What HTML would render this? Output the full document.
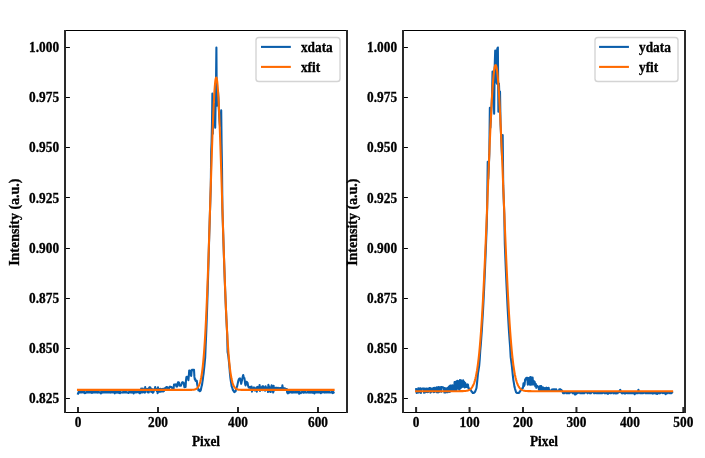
<!DOCTYPE html>
<html><head><meta charset="utf-8"><style>
html,body{margin:0;padding:0;background:#fff;}
svg{display:block;}
text{font-family:"Liberation Serif","Times New Roman",serif;font-weight:bold;font-size:13.89px;fill:#000;stroke:#000;stroke-width:0.3px;}
</style></head><body>
<svg width="705" height="458" viewBox="0 0 705 458">
<rect width="705" height="458" fill="#fff"/>
<polyline points="78.00,393.62 78.40,392.51 78.80,391.71 79.20,392.43 79.60,392.57 80.00,391.61 80.40,391.61 80.80,392.44 81.20,391.77 81.60,392.53 82.00,391.67 82.40,391.69 82.80,391.72 83.20,392.47 83.60,391.62 84.00,392.56 84.40,391.72 84.80,393.28 85.20,392.45 85.60,392.93 86.00,392.42 86.40,392.46 86.80,391.70 87.20,392.51 87.60,391.66 88.00,392.53 88.40,391.64 88.80,392.56 89.20,392.44 89.60,392.44 90.00,391.68 90.40,392.47 90.80,391.61 91.20,392.58 91.60,391.68 92.00,392.94 92.40,392.38 92.80,392.46 93.20,391.76 93.60,392.46 94.00,391.61 94.40,392.46 94.80,392.15 95.20,392.50 95.60,391.76 96.00,392.55 96.40,392.54 96.80,391.78 97.20,391.63 97.60,392.60 98.00,391.68 98.40,392.54 98.80,391.61 99.20,392.43 99.60,392.45 100.00,392.53 100.40,392.54 100.80,393.46 101.20,391.62 101.60,392.45 102.00,391.60 102.40,392.57 102.80,391.68 103.20,392.44 103.60,391.73 104.00,392.46 104.40,391.61 104.80,392.53 105.20,391.76 105.60,392.42 106.00,391.74 106.40,392.45 106.80,391.62 107.20,392.42 107.60,391.65 108.00,392.55 108.40,392.54 108.80,392.57 109.20,391.64 109.60,392.48 110.00,391.65 110.40,392.60 110.80,392.43 111.20,392.48 111.60,391.68 112.00,391.72 112.40,391.73 112.80,392.43 113.20,391.61 113.60,392.49 114.00,391.64 114.40,392.57 114.80,393.35 115.20,392.52 115.60,391.72 116.00,392.54 116.40,391.74 116.80,392.59 117.20,391.63 117.60,391.67 118.00,392.57 118.40,391.70 118.80,392.46 119.20,393.02 119.60,391.74 120.00,393.24 120.40,391.66 120.80,392.45 121.20,392.42 121.60,392.45 122.00,392.56 122.40,392.48 122.80,392.59 123.20,391.62 123.60,392.49 124.00,392.45 124.40,391.69 124.80,392.43 125.20,391.71 125.60,392.46 126.00,391.61 126.40,392.44 126.80,392.50 127.20,392.53 127.60,392.21 128.00,392.54 128.40,393.02 128.80,392.44 129.20,391.66 129.60,392.49 130.00,392.44 130.40,392.44 130.80,391.62 131.20,392.52 131.60,391.77 132.00,392.58 132.40,391.63 132.80,392.40 133.20,391.47 133.60,393.38 134.00,391.75 134.40,392.44 134.80,390.87 135.20,392.53 135.60,390.89 136.00,392.53 136.40,392.30 136.80,392.30 137.20,391.05 137.60,392.26 138.00,390.75 138.40,392.31 138.80,390.97 139.20,392.74 139.60,393.28 140.00,393.25 140.40,392.47 140.80,392.40 141.20,388.47 141.60,392.45 142.00,390.94 142.40,392.48 142.80,388.48 143.20,392.33 143.60,389.61 144.00,392.30 144.40,389.25 144.80,392.59 145.20,387.11 145.60,392.16 146.00,389.34 146.40,390.38 146.80,389.07 147.20,389.09 147.60,389.46 148.00,392.36 148.40,388.57 148.80,392.44 149.20,387.49 149.60,389.14 150.00,387.17 150.40,387.56 150.80,389.14 151.20,391.96 151.60,389.44 152.00,389.06 152.40,389.33 152.80,392.80 153.20,391.87 153.60,391.99 154.00,389.18 154.40,389.78 154.80,389.15 155.20,387.06 155.60,389.22 156.00,388.90 156.40,389.07 156.80,391.01 157.20,388.82 157.60,393.09 158.00,387.35 158.40,391.45 158.80,391.59 159.20,391.61 159.60,388.95 160.00,391.78 160.40,388.77 160.80,391.59 161.20,391.55 161.60,391.49 162.00,388.94 162.40,389.13 162.80,388.92 163.20,391.56 163.60,388.72 164.00,391.05 164.40,388.65 164.80,389.95 165.20,388.03 165.60,387.61 166.00,388.20 166.40,387.04 166.80,387.75 167.20,387.21 167.60,387.32 168.00,388.66 168.40,388.42 168.80,389.30 169.20,387.42 169.60,387.32 170.00,386.63 170.40,386.78 170.80,386.95 171.20,387.45 171.60,387.19 172.00,387.78 172.40,388.49 172.80,388.50 173.20,388.65 173.60,388.77 174.00,384.50 174.40,384.49 174.80,384.59 175.20,384.74 175.60,384.58 176.00,384.36 176.40,386.49 176.80,386.59 177.20,386.50 177.60,384.17 178.00,382.29 178.40,382.41 178.80,382.40 179.20,383.04 179.60,385.69 180.00,385.75 180.40,385.80 180.80,385.82 181.20,384.78 181.60,383.77 182.00,382.61 182.40,382.17 182.80,382.54 183.20,382.43 183.60,382.49 184.00,384.91 184.40,387.14 184.80,386.91 185.20,386.94 185.60,386.99 186.00,380.30 186.40,377.04 186.80,376.75 187.20,376.68 187.60,376.86 188.00,377.04 188.40,380.23 188.80,376.20 189.20,370.62 189.60,370.64 190.00,370.65 190.40,370.73 190.80,374.45 191.20,375.91 191.60,371.28 192.00,369.79 192.40,370.13 192.80,369.80 193.20,369.96 193.60,369.68 194.00,369.70 194.40,376.68 194.80,379.28 195.20,378.94 195.60,380.73 196.00,381.20 196.40,380.90 196.80,380.76 197.20,384.45 197.60,386.19 198.00,387.66 198.40,390.28 198.80,390.19 199.20,389.66 199.60,391.12 200.00,391.10 200.40,390.85 200.80,389.96 201.20,388.10 201.60,386.30 202.00,384.91 202.40,382.03 202.80,379.54 203.20,376.16 203.60,373.49 204.00,369.68 204.40,365.94 204.80,361.77 205.20,357.44 205.60,347.07 206.00,338.25 206.40,328.16 206.80,317.19 207.20,305.46 207.60,292.97 208.00,279.49 208.40,265.61 208.80,251.29 209.20,236.60 209.60,224.09 210.00,211.39 210.40,198.59 210.80,185.82 211.20,151.80 211.60,141.77 212.00,123.72 212.40,93.63 212.80,133.75 213.20,115.69 213.60,107.67 214.00,103.66 214.40,107.67 214.80,121.71 215.20,127.73 215.60,103.66 216.00,83.60 216.40,47.50 216.80,105.67 217.20,101.65 217.60,95.64 218.00,91.63 218.40,97.64 218.80,107.67 219.20,115.69 219.60,121.71 220.00,125.72 220.40,123.72 220.80,115.69 221.20,110.28 221.60,143.77 222.00,167.84 222.40,208.83 222.80,221.56 223.20,234.12 223.60,246.41 224.00,258.34 224.40,269.83 224.80,280.83 225.20,291.28 225.60,301.15 226.00,310.41 226.40,319.04 226.80,327.03 227.20,334.48 227.60,352.15 228.00,353.99 228.40,356.56 228.80,360.33 229.20,364.32 229.60,369.18 230.00,374.16 230.40,377.84 230.80,380.83 231.20,383.06 231.60,386.10 232.00,387.06 232.40,388.23 232.80,389.68 233.20,390.52 233.60,390.87 234.00,391.70 234.40,392.10 234.80,392.05 235.20,391.32 235.60,391.17 236.00,389.56 236.40,388.29 236.80,387.03 237.20,386.12 237.60,384.15 238.00,382.24 238.40,380.49 238.80,379.33 239.20,378.74 239.60,378.58 240.00,378.38 240.40,379.84 240.80,381.80 241.20,383.85 241.60,381.98 242.00,380.20 242.40,378.23 242.80,376.48 243.20,375.12 243.60,376.56 244.00,377.49 244.40,378.15 244.80,380.75 245.20,384.28 245.60,385.43 246.00,383.12 246.40,381.72 246.80,381.93 247.20,382.45 247.60,382.94 248.00,385.44 248.40,386.65 248.80,387.48 249.20,387.55 249.60,387.12 250.00,387.20 250.40,388.49 250.80,386.69 251.20,389.66 251.60,386.49 252.00,391.65 252.40,389.24 252.80,388.53 253.20,388.61 253.60,388.48 254.00,387.39 254.40,390.35 254.80,390.49 255.20,388.61 255.60,388.46 256.00,390.53 256.40,387.44 256.80,391.70 257.20,387.35 257.60,386.76 258.00,387.41 258.40,387.37 258.80,389.66 259.20,388.60 259.60,384.97 260.00,391.00 260.40,387.40 260.80,388.82 261.20,387.36 261.60,387.34 262.00,387.58 262.40,386.26 262.80,390.19 263.20,386.39 263.60,387.40 264.00,388.70 264.40,387.47 264.80,388.69 265.20,390.75 265.60,386.19 266.00,387.68 266.40,387.61 266.80,388.80 267.20,388.83 267.60,387.68 268.00,392.05 268.40,384.90 268.80,386.36 269.20,390.06 269.60,391.47 270.00,387.61 270.40,388.86 270.80,392.00 271.20,387.70 271.60,385.34 272.00,387.79 272.40,387.84 272.80,388.84 273.20,392.54 273.60,385.69 274.00,390.68 274.40,389.04 274.80,387.88 275.20,389.14 275.60,387.78 276.00,389.15 276.40,387.81 276.80,387.88 277.20,387.95 277.60,389.15 278.00,387.86 278.40,389.09 278.80,389.22 279.20,389.06 279.60,388.10 280.00,389.23 280.40,388.02 280.80,389.22 281.20,388.13 281.60,389.12 282.00,389.05 282.40,385.40 282.80,388.00 283.20,389.21 283.60,388.13 284.00,389.26 284.40,388.28 284.80,389.17 285.20,388.51 285.60,389.36 286.00,388.75 286.40,389.38 286.80,388.98 287.20,392.66 287.60,390.35 288.00,393.40 288.40,390.88 288.80,392.26 289.20,392.74 289.60,391.67 290.00,391.75 290.40,391.65 290.80,391.71 291.20,392.59 291.60,391.62 292.00,392.44 292.40,391.70 292.80,392.59 293.20,391.72 293.60,392.48 294.00,391.62 294.40,392.50 294.80,392.51 295.20,392.50 295.60,392.28 296.00,391.73 296.40,391.76 296.80,392.47 297.20,391.62 297.60,392.48 298.00,391.77 298.40,391.75 298.80,391.65 299.20,393.71 299.60,391.66 300.00,392.57 300.40,392.59 300.80,393.14 301.20,392.56 301.60,392.45 302.00,391.73 302.40,391.60 302.80,391.77 303.20,392.56 303.60,391.76 304.00,392.60 304.40,391.70 304.80,392.45 305.20,391.75 305.60,392.49 306.00,392.54 306.40,392.51 306.80,392.59 307.20,392.42 307.60,391.65 308.00,391.67 308.40,391.73 308.80,392.59 309.20,391.75 309.60,392.59 310.00,392.69 310.40,392.55 310.80,391.71 311.20,392.43 311.60,391.61 312.00,392.56 312.40,391.64 312.80,392.56 313.20,392.78 313.60,392.42 314.00,391.70 314.40,393.44 314.80,391.61 315.20,392.47 315.60,391.66 316.00,392.48 316.40,391.73 316.80,392.45 317.20,391.68 317.60,392.53 318.00,391.77 318.40,392.44 318.80,391.61 319.20,392.45 319.60,391.64 320.00,392.45 320.40,391.61 320.80,393.15 321.20,391.64 321.60,392.51 322.00,391.72 322.40,391.71 322.80,391.63 323.20,392.44 323.60,391.65 324.00,391.75 324.40,391.69 324.80,392.58 325.20,392.47 325.60,392.46 326.00,391.61 326.40,392.43 326.80,392.32 327.20,392.49 327.60,391.72 328.00,391.76 328.40,391.65 328.80,392.54 329.20,391.70 329.60,392.51 330.00,392.44 330.40,392.44 330.80,392.56 331.20,392.52 331.60,391.70 332.00,392.60 332.40,391.78 332.80,393.10 333.20,391.74 333.60,392.55" fill="none" stroke="#0a5eab" stroke-width="2.08" stroke-linejoin="round" stroke-linecap="square"/>
<polyline points="78.00,389.89 78.40,389.89 78.80,389.89 79.20,389.89 79.60,389.89 80.00,389.89 80.40,389.89 80.80,389.89 81.20,389.89 81.60,389.89 82.00,389.89 82.40,389.89 82.80,389.89 83.20,389.89 83.60,389.89 84.00,389.89 84.40,389.89 84.80,389.89 85.20,389.89 85.60,389.89 86.00,389.89 86.40,389.89 86.80,389.89 87.20,389.89 87.60,389.89 88.00,389.89 88.40,389.89 88.80,389.89 89.20,389.89 89.60,389.89 90.00,389.89 90.40,389.89 90.80,389.89 91.20,389.89 91.60,389.89 92.00,389.89 92.40,389.89 92.80,389.89 93.20,389.89 93.60,389.89 94.00,389.89 94.40,389.89 94.80,389.89 95.20,389.89 95.60,389.89 96.00,389.89 96.40,389.89 96.80,389.89 97.20,389.89 97.60,389.89 98.00,389.89 98.40,389.89 98.80,389.89 99.20,389.89 99.60,389.89 100.00,389.89 100.40,389.89 100.80,389.89 101.20,389.89 101.60,389.89 102.00,389.89 102.40,389.89 102.80,389.89 103.20,389.89 103.60,389.89 104.00,389.89 104.40,389.89 104.80,389.89 105.20,389.89 105.60,389.89 106.00,389.89 106.40,389.89 106.80,389.89 107.20,389.89 107.60,389.89 108.00,389.89 108.40,389.89 108.80,389.89 109.20,389.89 109.60,389.89 110.00,389.89 110.40,389.89 110.80,389.89 111.20,389.89 111.60,389.89 112.00,389.89 112.40,389.89 112.80,389.89 113.20,389.89 113.60,389.89 114.00,389.89 114.40,389.89 114.80,389.89 115.20,389.89 115.60,389.89 116.00,389.89 116.40,389.89 116.80,389.89 117.20,389.89 117.60,389.89 118.00,389.89 118.40,389.89 118.80,389.89 119.20,389.89 119.60,389.89 120.00,389.89 120.40,389.89 120.80,389.89 121.20,389.89 121.60,389.89 122.00,389.89 122.40,389.89 122.80,389.89 123.20,389.89 123.60,389.89 124.00,389.89 124.40,389.89 124.80,389.89 125.20,389.89 125.60,389.89 126.00,389.89 126.40,389.89 126.80,389.89 127.20,389.89 127.60,389.89 128.00,389.89 128.40,389.89 128.80,389.89 129.20,389.89 129.60,389.89 130.00,389.89 130.40,389.89 130.80,389.89 131.20,389.89 131.60,389.89 132.00,389.89 132.40,389.89 132.80,389.89 133.20,389.89 133.60,389.89 134.00,389.89 134.40,389.89 134.80,389.89 135.20,389.89 135.60,389.89 136.00,389.89 136.40,389.89 136.80,389.89 137.20,389.89 137.60,389.89 138.00,389.89 138.40,389.89 138.80,389.89 139.20,389.89 139.60,389.89 140.00,389.89 140.40,389.89 140.80,389.89 141.20,389.89 141.60,389.89 142.00,389.89 142.40,389.89 142.80,389.89 143.20,389.89 143.60,389.89 144.00,389.89 144.40,389.89 144.80,389.89 145.20,389.89 145.60,389.89 146.00,389.89 146.40,389.89 146.80,389.89 147.20,389.89 147.60,389.89 148.00,389.89 148.40,389.89 148.80,389.89 149.20,389.89 149.60,389.89 150.00,389.89 150.40,389.89 150.80,389.89 151.20,389.89 151.60,389.89 152.00,389.89 152.40,389.89 152.80,389.89 153.20,389.89 153.60,389.89 154.00,389.89 154.40,389.89 154.80,389.89 155.20,389.89 155.60,389.89 156.00,389.89 156.40,389.89 156.80,389.89 157.20,389.89 157.60,389.89 158.00,389.89 158.40,389.89 158.80,389.89 159.20,389.89 159.60,389.89 160.00,389.89 160.40,389.89 160.80,389.89 161.20,389.89 161.60,389.89 162.00,389.89 162.40,389.89 162.80,389.89 163.20,389.89 163.60,389.89 164.00,389.89 164.40,389.89 164.80,389.89 165.20,389.89 165.60,389.89 166.00,389.89 166.40,389.89 166.80,389.89 167.20,389.89 167.60,389.89 168.00,389.89 168.40,389.89 168.80,389.89 169.20,389.89 169.60,389.89 170.00,389.89 170.40,389.89 170.80,389.89 171.20,389.89 171.60,389.89 172.00,389.89 172.40,389.89 172.80,389.89 173.20,389.89 173.60,389.89 174.00,389.89 174.40,389.89 174.80,389.89 175.20,389.89 175.60,389.89 176.00,389.89 176.40,389.89 176.80,389.89 177.20,389.89 177.60,389.89 178.00,389.89 178.40,389.89 178.80,389.89 179.20,389.89 179.60,389.89 180.00,389.89 180.40,389.89 180.80,389.89 181.20,389.89 181.60,389.89 182.00,389.89 182.40,389.89 182.80,389.89 183.20,389.89 183.60,389.89 184.00,389.89 184.40,389.89 184.80,389.89 185.20,389.89 185.60,389.89 186.00,389.89 186.40,389.89 186.80,389.89 187.20,389.89 187.60,389.89 188.00,389.89 188.40,389.89 188.80,389.89 189.20,389.88 189.60,389.88 190.00,389.88 190.40,389.87 190.80,389.86 191.20,389.85 191.60,389.84 192.00,389.82 192.40,389.80 192.80,389.77 193.20,389.73 193.60,389.68 194.00,389.62 194.40,389.55 194.80,389.45 195.20,389.33 195.60,389.18 196.00,388.99 196.40,388.76 196.80,388.47 197.20,388.12 197.60,387.69 198.00,387.18 198.40,386.56 198.80,385.82 199.20,384.93 199.60,383.88 200.00,382.64 200.40,381.18 200.80,379.48 201.20,377.50 201.60,375.21 202.00,372.58 202.40,369.57 202.80,366.14 203.20,362.27 203.60,357.91 204.00,353.03 204.40,347.60 204.80,341.59 205.20,334.98 205.60,327.75 206.00,319.88 206.40,311.38 206.80,302.25 207.20,292.50 207.60,282.16 208.00,271.27 208.40,259.87 208.80,248.02 209.20,235.80 209.60,223.29 210.00,210.58 210.40,197.79 210.80,185.01 211.20,172.39 211.60,160.03 212.00,148.08 212.40,136.67 212.80,125.93 213.20,115.99 213.60,106.96 214.00,98.97 214.40,92.12 214.80,86.49 215.20,82.17 215.60,79.21 216.00,77.64 216.40,77.50 216.80,78.78 217.20,81.47 217.60,85.52 218.00,90.89 218.40,97.51 218.80,105.28 219.20,114.11 219.60,123.88 220.00,134.47 220.40,145.75 220.80,157.61 221.20,169.89 221.60,182.47 222.00,195.23 222.40,208.03 222.80,220.76 223.20,233.32 223.60,245.61 224.00,257.53 224.40,269.03 224.80,280.03 225.20,290.48 225.60,300.35 226.00,309.61 226.40,318.23 226.80,326.22 227.20,333.58 227.60,340.32 228.00,346.44 228.40,351.99 228.80,356.98 229.20,361.44 229.60,365.41 230.00,368.92 230.40,372.01 230.80,374.71 231.20,377.06 231.60,379.10 232.00,380.86 232.40,382.36 232.80,383.65 233.20,384.73 233.60,385.65 234.00,386.42 234.40,387.06 234.80,387.60 235.20,388.04 235.60,388.41 236.00,388.70 236.40,388.95 236.80,389.14 237.20,389.30 237.60,389.43 238.00,389.53 238.40,389.61 238.80,389.67 239.20,389.72 239.60,389.76 240.00,389.79 240.40,389.82 240.80,389.84 241.20,389.85 241.60,389.86 242.00,389.87 242.40,389.88 242.80,389.88 243.20,389.88 243.60,389.89 244.00,389.89 244.40,389.89 244.80,389.89 245.20,389.89 245.60,389.89 246.00,389.89 246.40,389.89 246.80,389.89 247.20,389.89 247.60,389.89 248.00,389.89 248.40,389.89 248.80,389.89 249.20,389.89 249.60,389.89 250.00,389.89 250.40,389.89 250.80,389.89 251.20,389.89 251.60,389.89 252.00,389.89 252.40,389.89 252.80,389.89 253.20,389.89 253.60,389.89 254.00,389.89 254.40,389.89 254.80,389.89 255.20,389.89 255.60,389.89 256.00,389.89 256.40,389.89 256.80,389.89 257.20,389.89 257.60,389.89 258.00,389.89 258.40,389.89 258.80,389.89 259.20,389.89 259.60,389.89 260.00,389.89 260.40,389.89 260.80,389.89 261.20,389.89 261.60,389.89 262.00,389.89 262.40,389.89 262.80,389.89 263.20,389.89 263.60,389.89 264.00,389.89 264.40,389.89 264.80,389.89 265.20,389.89 265.60,389.89 266.00,389.89 266.40,389.89 266.80,389.89 267.20,389.89 267.60,389.89 268.00,389.89 268.40,389.89 268.80,389.89 269.20,389.89 269.60,389.89 270.00,389.89 270.40,389.89 270.80,389.89 271.20,389.89 271.60,389.89 272.00,389.89 272.40,389.89 272.80,389.89 273.20,389.89 273.60,389.89 274.00,389.89 274.40,389.89 274.80,389.89 275.20,389.89 275.60,389.89 276.00,389.89 276.40,389.89 276.80,389.89 277.20,389.89 277.60,389.89 278.00,389.89 278.40,389.89 278.80,389.89 279.20,389.89 279.60,389.89 280.00,389.89 280.40,389.89 280.80,389.89 281.20,389.89 281.60,389.89 282.00,389.89 282.40,389.89 282.80,389.89 283.20,389.89 283.60,389.89 284.00,389.89 284.40,389.89 284.80,389.89 285.20,389.89 285.60,389.89 286.00,389.89 286.40,389.89 286.80,389.89 287.20,389.89 287.60,389.89 288.00,389.89 288.40,389.89 288.80,389.89 289.20,389.89 289.60,389.89 290.00,389.89 290.40,389.89 290.80,389.89 291.20,389.89 291.60,389.89 292.00,389.89 292.40,389.89 292.80,389.89 293.20,389.89 293.60,389.89 294.00,389.89 294.40,389.89 294.80,389.89 295.20,389.89 295.60,389.89 296.00,389.89 296.40,389.89 296.80,389.89 297.20,389.89 297.60,389.89 298.00,389.89 298.40,389.89 298.80,389.89 299.20,389.89 299.60,389.89 300.00,389.89 300.40,389.89 300.80,389.89 301.20,389.89 301.60,389.89 302.00,389.89 302.40,389.89 302.80,389.89 303.20,389.89 303.60,389.89 304.00,389.89 304.40,389.89 304.80,389.89 305.20,389.89 305.60,389.89 306.00,389.89 306.40,389.89 306.80,389.89 307.20,389.89 307.60,389.89 308.00,389.89 308.40,389.89 308.80,389.89 309.20,389.89 309.60,389.89 310.00,389.89 310.40,389.89 310.80,389.89 311.20,389.89 311.60,389.89 312.00,389.89 312.40,389.89 312.80,389.89 313.20,389.89 313.60,389.89 314.00,389.89 314.40,389.89 314.80,389.89 315.20,389.89 315.60,389.89 316.00,389.89 316.40,389.89 316.80,389.89 317.20,389.89 317.60,389.89 318.00,389.89 318.40,389.89 318.80,389.89 319.20,389.89 319.60,389.89 320.00,389.89 320.40,389.89 320.80,389.89 321.20,389.89 321.60,389.89 322.00,389.89 322.40,389.89 322.80,389.89 323.20,389.89 323.60,389.89 324.00,389.89 324.40,389.89 324.80,389.89 325.20,389.89 325.60,389.89 326.00,389.89 326.40,389.89 326.80,389.89 327.20,389.89 327.60,389.89 328.00,389.89 328.40,389.89 328.80,389.89 329.20,389.89 329.60,389.89 330.00,389.89 330.40,389.89 330.80,389.89 331.20,389.89 331.60,389.89 332.00,389.89 332.40,389.89 332.80,389.89 333.20,389.89 333.60,389.89" fill="none" stroke="#ff6a00" stroke-width="2.08" stroke-linejoin="round" stroke-linecap="square"/>
<rect x="64.00" y="30" width="284.00" height="1" fill="#000"/>
<rect x="64.00" y="412" width="284.00" height="1" fill="#000"/>
<rect x="64.00" y="30" width="2" height="383" fill="#2a2a2a"/>
<rect x="346.00" y="30" width="2" height="383" fill="#2a2a2a"/>
<rect x="66.00" y="398" width="3.9" height="1" fill="#000"/>
<text transform="translate(59.10,403.20) scale(0.96,1)" text-anchor="end">0.825</text>
<rect x="66.00" y="348" width="3.9" height="1" fill="#000"/>
<text transform="translate(59.10,353.06) scale(0.96,1)" text-anchor="end">0.850</text>
<rect x="66.00" y="298" width="3.9" height="1" fill="#000"/>
<text transform="translate(59.10,302.91) scale(0.96,1)" text-anchor="end">0.875</text>
<rect x="66.00" y="248" width="3.9" height="1" fill="#000"/>
<text transform="translate(59.10,252.77) scale(0.96,1)" text-anchor="end">0.900</text>
<rect x="66.00" y="197" width="3.9" height="1" fill="#000"/>
<text transform="translate(59.10,202.63) scale(0.96,1)" text-anchor="end">0.925</text>
<rect x="66.00" y="147" width="3.9" height="1" fill="#000"/>
<text transform="translate(59.10,152.49) scale(0.96,1)" text-anchor="end">0.950</text>
<rect x="66.00" y="97" width="3.9" height="1" fill="#000"/>
<text transform="translate(59.10,102.34) scale(0.96,1)" text-anchor="end">0.975</text>
<rect x="66.00" y="47" width="3.9" height="1" fill="#000"/>
<text transform="translate(59.10,52.20) scale(0.96,1)" text-anchor="end">1.000</text>
<rect x="77.00" y="407" width="2" height="5" fill="#2a2a2a"/>
<text transform="translate(78.00,426.60) scale(0.96,1)" text-anchor="middle">0</text>
<rect x="157.00" y="407" width="2" height="5" fill="#2a2a2a"/>
<text transform="translate(158.00,426.60) scale(0.96,1)" text-anchor="middle">200</text>
<rect x="237.00" y="407" width="2" height="5" fill="#2a2a2a"/>
<text transform="translate(238.00,426.60) scale(0.96,1)" text-anchor="middle">400</text>
<rect x="317.00" y="407" width="2" height="5" fill="#2a2a2a"/>
<text transform="translate(318.00,426.60) scale(0.96,1)" text-anchor="middle">600</text>
<text transform="translate(206.00,445.80) scale(0.96,1)" text-anchor="middle">Pixel</text>
<rect x="256.00" y="37.50" width="84.00" height="44.00" rx="2.8" fill="#fff" fill-opacity="0.8" stroke="#cccccc" stroke-opacity="0.85" stroke-width="1.4"/>
<line x1="262.01" x2="289.79" y1="46.9" y2="46.9" stroke="#0a5eab" stroke-width="2.08" stroke-linecap="square"/>
<line x1="262.01" x2="289.79" y1="66.9" y2="66.9" stroke="#ff6a00" stroke-width="2.08" stroke-linecap="square"/>
<text transform="translate(300.90,51.90) scale(0.96,1)" text-anchor="start">xdata</text>
<text transform="translate(300.90,71.80) scale(0.96,1)" text-anchor="start">xfit</text>
<polyline points="416.10,389.05 416.63,392.95 417.17,392.66 417.70,392.47 418.24,388.37 418.77,392.52 419.31,388.65 419.84,392.20 420.38,388.33 420.91,392.98 421.44,388.82 421.98,388.90 422.51,388.61 423.05,388.26 423.58,388.98 424.12,392.75 424.65,388.54 425.19,392.42 425.72,388.73 426.25,392.02 426.79,388.58 427.32,392.16 427.86,388.80 428.39,391.95 428.93,388.58 429.46,388.09 430.00,388.14 430.53,392.59 431.06,388.64 431.60,391.80 432.13,388.45 432.67,388.68 433.20,388.20 433.74,392.10 434.27,387.77 434.81,391.98 435.34,388.15 435.87,387.96 436.41,387.36 436.94,392.30 437.48,387.48 438.01,392.40 438.55,387.09 439.08,391.88 439.62,387.52 440.15,387.16 440.68,387.29 441.22,391.81 441.75,387.02 442.29,387.20 442.82,387.34 443.36,387.53 443.89,387.85 444.43,392.56 444.96,388.11 445.49,392.55 446.03,392.14 446.56,391.92 447.10,388.03 447.63,392.27 448.17,391.87 448.70,386.95 449.24,386.28 449.77,391.96 450.30,385.55 450.84,385.51 451.37,385.64 451.91,391.00 452.44,385.20 452.98,390.36 453.51,390.79 454.05,390.92 454.58,381.99 455.11,390.46 455.65,381.80 456.18,390.68 456.72,382.20 457.25,380.71 457.79,381.55 458.32,388.81 458.86,381.07 459.39,389.94 459.92,380.13 460.46,388.20 460.99,380.30 461.53,387.38 462.06,386.81 462.60,386.51 463.13,380.22 463.67,386.68 464.20,381.90 464.73,387.41 465.27,383.14 465.80,386.98 466.34,386.79 466.87,386.99 467.41,384.42 467.94,384.75 468.48,388.41 469.01,388.72 469.55,388.55 470.08,388.97 470.61,389.86 471.15,390.73 471.68,391.72 472.22,391.92 472.75,392.99 473.29,392.85 473.82,392.88 474.36,392.46 474.89,391.95 475.42,391.01 475.96,389.50 476.49,388.00 477.03,383.05 477.56,377.63 478.10,372.51 478.63,369.26 479.17,365.81 479.70,359.74 480.23,350.93 480.77,344.92 481.30,337.69 481.84,330.12 482.37,321.20 482.91,312.44 483.44,302.49 483.98,291.66 484.51,279.68 485.04,267.59 485.58,254.72 486.11,241.49 486.65,227.67 487.18,207.00 487.72,161.82 488.25,178.87 488.79,167.09 489.32,154.14 489.85,107.67 490.39,127.73 490.92,118.26 491.46,107.75 491.99,97.04 492.53,71.57 493.06,91.63 493.60,81.60 494.13,113.69 494.66,67.56 495.20,50.51 495.73,81.60 496.27,50.51 496.80,83.60 497.34,48.50 497.87,47.50 498.41,111.68 498.94,83.60 499.47,97.64 500.01,91.63 500.54,123.72 501.08,135.75 501.61,147.81 502.15,158.82 502.68,134.95 503.22,185.89 503.75,200.33 504.28,213.64 504.82,244.10 505.35,257.47 505.89,270.71 506.42,282.88 506.96,294.24 507.49,305.52 508.03,315.09 508.56,324.50 509.09,332.96 509.63,340.41 510.16,347.37 510.70,357.16 511.23,361.06 511.77,365.06 512.30,370.24 512.84,375.61 513.37,380.07 513.90,383.15 514.44,386.61 514.97,388.60 515.51,390.32 516.04,392.22 516.58,392.68 517.11,393.02 517.65,392.93 518.18,392.86 518.71,392.98 519.25,392.83 519.78,391.85 520.32,390.84 520.85,390.45 521.39,389.72 521.92,388.60 522.46,388.23 522.99,387.87 523.52,383.22 524.06,385.95 524.59,384.63 525.13,379.37 525.66,379.61 526.20,377.91 526.73,377.78 527.27,377.82 527.80,384.76 528.33,378.24 528.87,383.73 529.40,377.85 529.94,384.69 530.47,377.14 531.01,384.59 531.54,377.55 532.08,384.49 532.61,377.47 533.14,384.41 533.68,384.41 534.21,381.22 534.75,382.07 535.28,386.25 535.82,383.89 536.35,387.83 536.89,385.75 537.42,385.99 537.95,386.60 538.49,386.85 539.02,390.08 539.56,390.22 540.09,385.98 540.63,390.32 541.16,385.97 541.70,390.20 542.23,387.18 542.76,390.63 543.30,387.52 543.83,390.47 544.37,390.43 544.90,388.09 545.44,390.77 545.97,390.97 546.51,387.67 547.04,390.64 547.57,388.12 548.11,390.41 548.64,387.70 549.18,390.96 549.71,390.59 550.25,390.61 550.78,390.82 551.32,390.76 551.85,389.49 552.38,390.98 552.92,389.22 553.45,390.85 553.99,389.26 554.52,390.81 555.06,389.44 555.59,390.91 556.13,389.26 556.66,390.78 557.19,390.86 557.73,390.80 558.26,390.78 558.80,390.93 559.33,389.31 559.87,390.82 560.40,389.22 560.94,390.79 561.47,390.16 562.00,390.79 562.54,391.57 563.07,393.21 563.61,393.18 564.14,393.26 564.68,392.16 565.21,392.25 565.75,392.29 566.28,393.19 566.81,392.31 567.35,393.11 567.88,392.27 568.42,393.19 568.95,392.20 569.49,393.27 570.02,392.13 570.56,392.20 571.09,392.15 571.62,392.24 572.16,392.28 572.69,393.17 573.23,392.27 573.76,393.09 574.30,392.32 574.83,394.49 575.37,392.25 575.90,394.36 576.44,392.24 576.97,393.13 577.50,393.22 578.04,393.09 578.57,392.12 579.11,392.28 579.64,392.14 580.18,393.27 580.71,393.25 581.25,393.26 581.78,393.10 582.31,393.10 582.85,392.11 583.38,393.29 583.92,392.28 584.45,393.09 584.99,392.30 585.52,392.27 586.06,392.16 586.59,392.19 587.12,392.70 587.66,393.29 588.19,392.18 588.73,392.19 589.26,392.22 589.80,393.14 590.33,392.82 590.87,393.30 591.40,392.23 591.93,392.30 592.47,392.27 593.00,392.17 593.54,392.21 594.07,393.23 594.61,392.16 595.14,393.15 595.68,392.21 596.21,393.10 596.74,393.29 597.28,393.12 597.81,393.25 598.35,393.28 598.88,392.23 599.42,393.14 599.95,392.25 600.49,393.30 601.02,393.11 601.55,393.26 602.09,393.23 602.62,392.19 603.16,392.23 603.69,392.30 604.23,393.15 604.76,393.20 605.30,393.19 605.83,393.24 606.36,392.12 606.90,393.13 607.43,392.31 607.97,393.85 608.50,392.16 609.04,393.10 609.57,392.17 610.11,392.19 610.64,393.29 611.17,393.15 611.71,392.16 612.24,392.28 612.78,392.27 613.31,393.29 613.85,392.82 614.38,393.18 614.92,392.11 615.45,393.16 615.98,393.51 616.52,393.17 617.05,392.26 617.59,393.24 618.12,392.29 618.66,392.21 619.19,392.15 619.73,390.78 620.26,389.80 620.79,392.29 621.33,392.15 621.86,393.23 622.40,392.28 622.93,393.29 623.47,392.10 624.00,392.28 624.54,393.21 625.07,393.61 625.60,392.27 626.14,392.85 626.67,392.21 627.21,393.14 627.74,393.16 628.28,393.21 628.81,392.30 629.35,393.12 629.88,392.13 630.41,393.16 630.95,392.17 631.48,393.18 632.02,392.14 632.55,393.24 633.09,393.12 633.62,393.09 634.16,393.10 634.69,394.19 635.22,392.17 635.76,393.19 636.29,392.19 636.83,393.13 637.36,392.26 637.90,393.27 638.43,389.70 638.97,392.28 639.50,392.21 640.03,393.12 640.57,392.30 641.10,393.27 641.64,392.28 642.17,393.17 642.71,392.27 643.24,393.17 643.78,392.20 644.31,392.29 644.84,392.11 645.38,393.23 645.91,393.26 646.45,393.29 646.98,392.22 647.52,393.21 648.05,392.29 648.59,393.15 649.12,392.10 649.65,393.13 650.19,392.20 650.72,393.12 651.26,392.16 651.79,393.24 652.33,392.18 652.86,393.60 653.40,392.15 653.93,393.20 654.46,392.32 655.00,393.12 655.53,392.28 656.07,393.69 656.60,392.23 657.14,393.94 657.67,392.21 658.21,393.11 658.74,392.22 659.27,393.30 659.81,392.26 660.34,393.18 660.88,392.20 661.41,392.13 661.95,392.10 662.48,393.13 663.02,392.31 663.55,392.17 664.08,393.12 664.62,393.20 665.15,392.11 665.69,394.24 666.22,392.24 666.76,393.10 667.29,393.20 667.83,393.29 668.36,392.11 668.89,392.31 669.43,392.12 669.96,393.23 670.50,392.29 671.03,393.12 671.57,393.12 672.10,392.27" fill="none" stroke="#0a5eab" stroke-width="2.08" stroke-linejoin="round" stroke-linecap="square"/>
<polyline points="416.10,391.18 416.63,391.18 417.17,391.18 417.70,391.18 418.24,391.18 418.77,391.18 419.31,391.18 419.84,391.18 420.38,391.18 420.91,391.18 421.44,391.18 421.98,391.18 422.51,391.18 423.05,391.18 423.58,391.18 424.12,391.18 424.65,391.18 425.19,391.18 425.72,391.18 426.25,391.18 426.79,391.18 427.32,391.18 427.86,391.18 428.39,391.18 428.93,391.18 429.46,391.18 430.00,391.18 430.53,391.18 431.06,391.18 431.60,391.18 432.13,391.18 432.67,391.18 433.20,391.18 433.74,391.18 434.27,391.18 434.81,391.18 435.34,391.18 435.87,391.18 436.41,391.18 436.94,391.18 437.48,391.18 438.01,391.18 438.55,391.18 439.08,391.18 439.62,391.18 440.15,391.18 440.68,391.18 441.22,391.18 441.75,391.18 442.29,391.18 442.82,391.18 443.36,391.18 443.89,391.18 444.43,391.18 444.96,391.18 445.49,391.18 446.03,391.18 446.56,391.18 447.10,391.18 447.63,391.18 448.17,391.18 448.70,391.18 449.24,391.18 449.77,391.18 450.30,391.18 450.84,391.18 451.37,391.18 451.91,391.18 452.44,391.18 452.98,391.18 453.51,391.18 454.05,391.18 454.58,391.18 455.11,391.18 455.65,391.18 456.18,391.18 456.72,391.17 457.25,391.17 457.79,391.17 458.32,391.17 458.86,391.17 459.39,391.17 459.92,391.16 460.46,391.16 460.99,391.15 461.53,391.15 462.06,391.14 462.60,391.12 463.13,391.11 463.67,391.08 464.20,391.05 464.73,391.02 465.27,390.97 465.80,390.91 466.34,390.83 466.87,390.73 467.41,390.61 467.94,390.45 468.48,390.26 469.01,390.03 469.55,389.74 470.08,389.39 470.61,388.95 471.15,388.43 471.68,387.80 472.22,387.05 472.75,386.14 473.29,385.07 473.82,383.81 474.36,382.32 474.89,380.59 475.42,378.57 475.96,376.23 476.49,373.54 477.03,370.46 477.56,366.95 478.10,362.98 478.63,358.51 479.17,353.50 479.70,347.91 480.23,341.73 480.77,334.93 481.30,327.48 481.84,319.37 482.37,310.59 482.91,301.16 483.44,291.08 483.98,280.38 484.51,269.09 485.04,257.26 485.58,244.96 486.11,232.26 486.65,219.23 487.18,205.99 487.72,192.64 488.25,179.30 488.79,166.08 489.32,153.14 489.85,140.59 490.39,128.59 490.92,117.26 491.46,106.75 491.99,97.17 492.53,88.66 493.06,81.33 493.60,75.26 494.13,70.53 494.66,67.22 495.20,65.37 495.73,65.00 496.27,66.11 496.80,68.70 497.34,72.72 497.87,78.13 498.41,84.84 498.94,92.78 499.47,101.83 500.01,111.89 500.54,122.83 501.08,134.51 501.61,146.80 502.15,159.57 502.68,172.67 503.22,185.96 503.75,199.32 504.28,212.64 504.82,225.78 505.35,238.65 505.89,251.17 506.42,263.24 506.96,274.80 507.49,285.80 508.03,296.20 508.56,305.96 509.09,315.06 509.63,323.50 510.16,331.28 510.70,338.41 511.23,344.90 511.77,350.78 512.30,356.07 512.84,360.81 513.37,365.02 513.90,368.76 514.44,372.05 514.97,374.93 515.51,377.44 516.04,379.61 516.58,381.49 517.11,383.10 517.65,384.47 518.18,385.63 518.71,386.62 519.25,387.44 519.78,388.13 520.32,388.71 520.85,389.18 521.39,389.57 521.92,389.89 522.46,390.15 522.99,390.36 523.52,390.54 524.06,390.67 524.59,390.78 525.13,390.87 525.66,390.94 526.20,390.99 526.73,391.04 527.27,391.07 527.80,391.09 528.33,391.11 528.87,391.13 529.40,391.14 529.94,391.15 530.47,391.16 531.01,391.16 531.54,391.17 532.08,391.17 532.61,391.17 533.14,391.17 533.68,391.17 534.21,391.17 534.75,391.18 535.28,391.18 535.82,391.18 536.35,391.18 536.89,391.18 537.42,391.18 537.95,391.18 538.49,391.18 539.02,391.18 539.56,391.18 540.09,391.18 540.63,391.18 541.16,391.18 541.70,391.18 542.23,391.18 542.76,391.18 543.30,391.18 543.83,391.18 544.37,391.18 544.90,391.18 545.44,391.18 545.97,391.18 546.51,391.18 547.04,391.18 547.57,391.18 548.11,391.18 548.64,391.18 549.18,391.18 549.71,391.18 550.25,391.18 550.78,391.18 551.32,391.18 551.85,391.18 552.38,391.18 552.92,391.18 553.45,391.18 553.99,391.18 554.52,391.18 555.06,391.18 555.59,391.18 556.13,391.18 556.66,391.18 557.19,391.18 557.73,391.18 558.26,391.18 558.80,391.18 559.33,391.18 559.87,391.18 560.40,391.18 560.94,391.18 561.47,391.18 562.00,391.18 562.54,391.18 563.07,391.18 563.61,391.18 564.14,391.18 564.68,391.18 565.21,391.18 565.75,391.18 566.28,391.18 566.81,391.18 567.35,391.18 567.88,391.18 568.42,391.18 568.95,391.18 569.49,391.18 570.02,391.18 570.56,391.18 571.09,391.18 571.62,391.18 572.16,391.18 572.69,391.18 573.23,391.18 573.76,391.18 574.30,391.18 574.83,391.18 575.37,391.18 575.90,391.18 576.44,391.18 576.97,391.18 577.50,391.18 578.04,391.18 578.57,391.18 579.11,391.18 579.64,391.18 580.18,391.18 580.71,391.18 581.25,391.18 581.78,391.18 582.31,391.18 582.85,391.18 583.38,391.18 583.92,391.18 584.45,391.18 584.99,391.18 585.52,391.18 586.06,391.18 586.59,391.18 587.12,391.18 587.66,391.18 588.19,391.18 588.73,391.18 589.26,391.18 589.80,391.18 590.33,391.18 590.87,391.18 591.40,391.18 591.93,391.18 592.47,391.18 593.00,391.18 593.54,391.18 594.07,391.18 594.61,391.18 595.14,391.18 595.68,391.18 596.21,391.18 596.74,391.18 597.28,391.18 597.81,391.18 598.35,391.18 598.88,391.18 599.42,391.18 599.95,391.18 600.49,391.18 601.02,391.18 601.55,391.18 602.09,391.18 602.62,391.18 603.16,391.18 603.69,391.18 604.23,391.18 604.76,391.18 605.30,391.18 605.83,391.18 606.36,391.18 606.90,391.18 607.43,391.18 607.97,391.18 608.50,391.18 609.04,391.18 609.57,391.18 610.11,391.18 610.64,391.18 611.17,391.18 611.71,391.18 612.24,391.18 612.78,391.18 613.31,391.18 613.85,391.18 614.38,391.18 614.92,391.18 615.45,391.18 615.98,391.18 616.52,391.18 617.05,391.18 617.59,391.18 618.12,391.18 618.66,391.18 619.19,391.18 619.73,391.18 620.26,391.18 620.79,391.18 621.33,391.18 621.86,391.18 622.40,391.18 622.93,391.18 623.47,391.18 624.00,391.18 624.54,391.18 625.07,391.18 625.60,391.18 626.14,391.18 626.67,391.18 627.21,391.18 627.74,391.18 628.28,391.18 628.81,391.18 629.35,391.18 629.88,391.18 630.41,391.18 630.95,391.18 631.48,391.18 632.02,391.18 632.55,391.18 633.09,391.18 633.62,391.18 634.16,391.18 634.69,391.18 635.22,391.18 635.76,391.18 636.29,391.18 636.83,391.18 637.36,391.18 637.90,391.18 638.43,391.18 638.97,391.18 639.50,391.18 640.03,391.18 640.57,391.18 641.10,391.18 641.64,391.18 642.17,391.18 642.71,391.18 643.24,391.18 643.78,391.18 644.31,391.18 644.84,391.18 645.38,391.18 645.91,391.18 646.45,391.18 646.98,391.18 647.52,391.18 648.05,391.18 648.59,391.18 649.12,391.18 649.65,391.18 650.19,391.18 650.72,391.18 651.26,391.18 651.79,391.18 652.33,391.18 652.86,391.18 653.40,391.18 653.93,391.18 654.46,391.18 655.00,391.18 655.53,391.18 656.07,391.18 656.60,391.18 657.14,391.18 657.67,391.18 658.21,391.18 658.74,391.18 659.27,391.18 659.81,391.18 660.34,391.18 660.88,391.18 661.41,391.18 661.95,391.18 662.48,391.18 663.02,391.18 663.55,391.18 664.08,391.18 664.62,391.18 665.15,391.18 665.69,391.18 666.22,391.18 666.76,391.18 667.29,391.18 667.83,391.18 668.36,391.18 668.89,391.18 669.43,391.18 669.96,391.18 670.50,391.18 671.03,391.18 671.57,391.18 672.10,391.18" fill="none" stroke="#ff6a00" stroke-width="2.08" stroke-linejoin="round" stroke-linecap="square"/>
<rect x="402.00" y="30" width="284.00" height="1" fill="#000"/>
<rect x="402.00" y="412" width="284.00" height="1" fill="#000"/>
<rect x="402.00" y="30" width="2" height="383" fill="#2a2a2a"/>
<rect x="684.00" y="30" width="2" height="383" fill="#2a2a2a"/>
<rect x="404.00" y="398" width="3.9" height="1" fill="#000"/>
<text transform="translate(397.10,403.20) scale(0.96,1)" text-anchor="end">0.825</text>
<rect x="404.00" y="348" width="3.9" height="1" fill="#000"/>
<text transform="translate(397.10,353.06) scale(0.96,1)" text-anchor="end">0.850</text>
<rect x="404.00" y="298" width="3.9" height="1" fill="#000"/>
<text transform="translate(397.10,302.91) scale(0.96,1)" text-anchor="end">0.875</text>
<rect x="404.00" y="248" width="3.9" height="1" fill="#000"/>
<text transform="translate(397.10,252.77) scale(0.96,1)" text-anchor="end">0.900</text>
<rect x="404.00" y="197" width="3.9" height="1" fill="#000"/>
<text transform="translate(397.10,202.63) scale(0.96,1)" text-anchor="end">0.925</text>
<rect x="404.00" y="147" width="3.9" height="1" fill="#000"/>
<text transform="translate(397.10,152.49) scale(0.96,1)" text-anchor="end">0.950</text>
<rect x="404.00" y="97" width="3.9" height="1" fill="#000"/>
<text transform="translate(397.10,102.34) scale(0.96,1)" text-anchor="end">0.975</text>
<rect x="404.00" y="47" width="3.9" height="1" fill="#000"/>
<text transform="translate(397.10,52.20) scale(0.96,1)" text-anchor="end">1.000</text>
<rect x="415.10" y="407" width="2" height="5" fill="#2a2a2a"/>
<text transform="translate(416.10,426.60) scale(0.96,1)" text-anchor="middle">0</text>
<rect x="468.55" y="407" width="2" height="5" fill="#2a2a2a"/>
<text transform="translate(469.55,426.60) scale(0.96,1)" text-anchor="middle">100</text>
<rect x="521.99" y="407" width="2" height="5" fill="#2a2a2a"/>
<text transform="translate(522.99,426.60) scale(0.96,1)" text-anchor="middle">200</text>
<rect x="575.44" y="407" width="2" height="5" fill="#2a2a2a"/>
<text transform="translate(576.44,426.60) scale(0.96,1)" text-anchor="middle">300</text>
<rect x="628.88" y="407" width="2" height="5" fill="#2a2a2a"/>
<text transform="translate(629.88,426.60) scale(0.96,1)" text-anchor="middle">400</text>
<rect x="682.33" y="407" width="2" height="5" fill="#2a2a2a"/>
<text transform="translate(683.33,426.60) scale(0.96,1)" text-anchor="middle">500</text>
<text transform="translate(544.00,445.80) scale(0.96,1)" text-anchor="middle">Pixel</text>
<rect x="595.00" y="37.50" width="83.00" height="44.00" rx="2.8" fill="#fff" fill-opacity="0.8" stroke="#cccccc" stroke-opacity="0.85" stroke-width="1.4"/>
<line x1="600.11" x2="627.89" y1="46.9" y2="46.9" stroke="#0a5eab" stroke-width="2.08" stroke-linecap="square"/>
<line x1="600.11" x2="627.89" y1="66.9" y2="66.9" stroke="#ff6a00" stroke-width="2.08" stroke-linecap="square"/>
<text transform="translate(639.00,51.90) scale(0.96,1)" text-anchor="start">ydata</text>
<text transform="translate(639.00,71.80) scale(0.96,1)" text-anchor="start">yfit</text>
<text transform="translate(19.0,222.20) rotate(-90) scale(1.006,1.06)" text-anchor="middle">Intensity (a.u.)</text>
<text transform="translate(357.1,222.20) rotate(-90) scale(1.006,1.06)" text-anchor="middle">Intensity (a.u.)</text>
</svg></body></html>
